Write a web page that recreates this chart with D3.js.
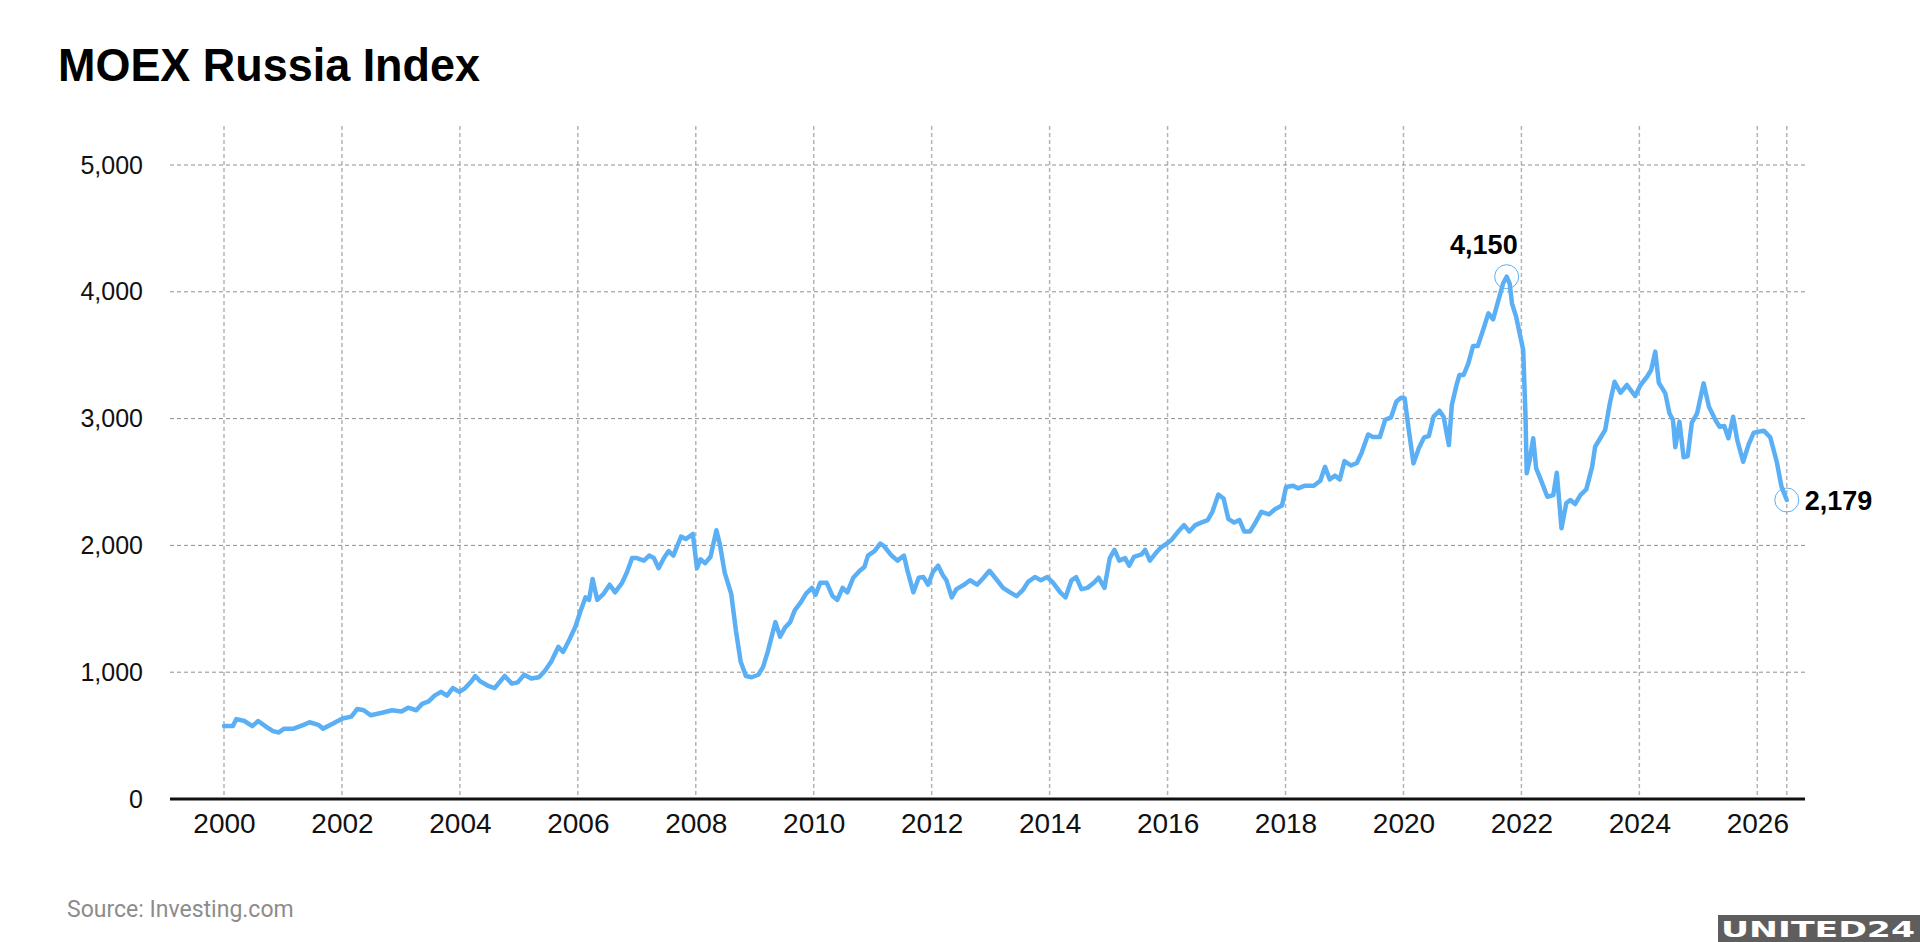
<!DOCTYPE html>
<html>
<head>
<meta charset="utf-8">
<script src="https://cdn.jsdelivr.net/npm/d3@7"></script>
<style>
  body { margin: 0; background: #fff; }
  svg { display: block; font-family: "Liberation Sans", Arial, sans-serif; }
</style>
</head>
<body>
<svg id="chart" width="1920" height="942"></svg>
<script>
// MOEX Russia Index (decimal year, index level)
const years = [
  2000.00, 2000.15, 2000.21, 2000.35, 2000.48, 2000.58, 2000.73, 2000.83, 2000.93, 2001.02,
  2001.18, 2001.35, 2001.45, 2001.60, 2001.68, 2001.85, 2002.01, 2002.16, 2002.26, 2002.37,
  2002.49, 2002.68, 2002.85, 2003.01, 2003.12, 2003.26, 2003.36, 2003.47, 2003.57, 2003.68,
  2003.78, 2003.88, 2003.99, 2004.09, 2004.20, 2004.26, 2004.34, 2004.47, 2004.59, 2004.67,
  2004.76, 2004.88, 2004.98, 2005.09, 2005.21, 2005.34, 2005.44, 2005.55, 2005.67, 2005.75,
  2005.86, 2005.96, 2006.04, 2006.13, 2006.19, 2006.25, 2006.33, 2006.44, 2006.54, 2006.63,
  2006.75, 2006.83, 2006.92, 2007.00, 2007.12, 2007.21, 2007.29, 2007.37, 2007.46, 2007.54,
  2007.62, 2007.75, 2007.83, 2007.95, 2008.02, 2008.08, 2008.16, 2008.25, 2008.35, 2008.41,
  2008.49, 2008.60, 2008.68, 2008.76, 2008.85, 2008.95, 2009.06, 2009.14, 2009.22, 2009.35,
  2009.43, 2009.51, 2009.60, 2009.68, 2009.78, 2009.87, 2009.97, 2010.03, 2010.11, 2010.22,
  2010.32, 2010.40, 2010.49, 2010.57, 2010.67, 2010.78, 2010.86, 2010.92, 2011.03, 2011.13,
  2011.19, 2011.32, 2011.42, 2011.53, 2011.59, 2011.69, 2011.78, 2011.86, 2011.94, 2012.02,
  2012.11, 2012.19, 2012.25, 2012.34, 2012.42, 2012.55, 2012.65, 2012.77, 2012.88, 2012.98,
  2013.11, 2013.21, 2013.33, 2013.44, 2013.54, 2013.64, 2013.75, 2013.85, 2013.96, 2014.06,
  2014.18, 2014.27, 2014.37, 2014.45, 2014.54, 2014.64, 2014.75, 2014.83, 2014.93, 2015.02,
  2015.10, 2015.18, 2015.28, 2015.35, 2015.43, 2015.56, 2015.62, 2015.70, 2015.80, 2015.89,
  2015.99, 2016.07, 2016.20, 2016.28, 2016.37, 2016.47, 2016.57, 2016.68, 2016.76, 2016.86,
  2016.95, 2017.03, 2017.13, 2017.22, 2017.30, 2017.40, 2017.49, 2017.59, 2017.72, 2017.82,
  2017.94, 2018.01, 2018.13, 2018.21, 2018.32, 2018.48, 2018.59, 2018.67, 2018.75, 2018.84,
  2018.92, 2019.00, 2019.11, 2019.21, 2019.29, 2019.40, 2019.48, 2019.60, 2019.69, 2019.79,
  2019.88, 2019.96, 2020.02, 2020.09, 2020.17, 2020.26, 2020.35, 2020.43, 2020.51, 2020.61,
  2020.68, 2020.77, 2020.82, 2020.90, 2020.95, 2021.02, 2021.10, 2021.18, 2021.26, 2021.36,
  2021.44, 2021.52, 2021.61, 2021.69, 2021.75, 2021.80, 2021.84, 2021.91, 2021.97, 2022.03,
  2022.07, 2022.09, 2022.14, 2022.20, 2022.25, 2022.32, 2022.44, 2022.54, 2022.60, 2022.68,
  2022.76, 2022.83, 2022.91, 2023.00, 2023.10, 2023.20, 2023.25, 2023.42, 2023.50, 2023.58,
  2023.68, 2023.79, 2023.93, 2024.02, 2024.13, 2024.20, 2024.27, 2024.33, 2024.44, 2024.51,
  2024.57, 2024.61, 2024.68, 2024.75, 2024.82, 2024.89, 2024.98, 2025.09, 2025.18, 2025.29,
  2025.36, 2025.44, 2025.51, 2025.59, 2025.66, 2025.76, 2025.85, 2025.94, 2026.11, 2026.22,
  2026.33, 2026.41, 2026.50
];
const values = [
  575, 575, 630, 615, 575, 615, 565, 535, 525, 555,
  555, 585, 605, 585, 555, 595, 635, 650, 710, 700,
  660, 680, 700, 690, 720, 700, 750, 770, 815, 845,
  815, 875, 845, 875, 930, 970, 930, 895, 875, 920,
  970, 910, 920, 980, 950, 960, 1010, 1085, 1200, 1160,
  1260, 1360, 1475, 1590, 1570, 1735, 1570, 1620, 1690, 1630,
  1705, 1785, 1900, 1900, 1880, 1920, 1900, 1820, 1900, 1955,
  1920, 2070, 2050, 2090, 1820, 1890, 1860, 1910, 2120, 2005,
  1785, 1620, 1330, 1085, 970, 960, 980, 1040, 1160, 1395,
  1280, 1350, 1395, 1490, 1550, 1620, 1665, 1610, 1705, 1705,
  1600, 1570, 1665, 1630, 1745, 1800, 1830, 1920, 1955, 2015,
  1995, 1920, 1880, 1920, 1800, 1630, 1745, 1750, 1690, 1790,
  1840, 1765, 1725, 1590, 1655, 1690, 1725, 1690, 1745, 1800,
  1725, 1665, 1630, 1600, 1645, 1715, 1750, 1725, 1750, 1705,
  1630, 1590, 1725, 1750, 1655, 1665, 1705, 1745, 1665, 1900,
  1965, 1880, 1900, 1840, 1910, 1930, 1965, 1880, 1940, 1985,
  2015, 2045, 2120, 2160, 2110, 2160, 2180, 2200, 2265, 2400,
  2370, 2210, 2180, 2200, 2110, 2110, 2180, 2265, 2245, 2285,
  2315, 2460, 2470, 2450, 2470, 2470, 2510, 2620, 2520, 2550,
  2520, 2665, 2630, 2650, 2730, 2875, 2855, 2855, 2990, 3010,
  3135, 3165, 3160, 2910, 2647, 2766, 2852, 2863, 3015, 3062,
  3015, 2792, 3107, 3265, 3344, 3344, 3436, 3572, 3572, 3712,
  3830, 3783, 3935, 4067, 4119, 4067, 3909, 3804, 3673, 3541,
  3015, 2569, 2674, 2845, 2608, 2529, 2384, 2397, 2573, 2135,
  2332, 2358, 2326, 2397, 2442, 2621, 2778, 2910, 3121, 3291,
  3204, 3265, 3178, 3265, 3330, 3383, 3528, 3283, 3199, 3042,
  2989, 2774, 2976, 2695, 2705, 2968, 3042, 3278, 3094, 2989,
  2936, 2942, 2845, 3015, 2831, 2660, 2792, 2889, 2905, 2852,
  2660, 2463, 2358
];
const yTicks = [0, 1000, 2000, 3000, 4000, 5000];
const xTicks = [2000, 2002, 2004, 2006, 2008, 2010, 2012, 2014, 2016, 2018, 2020, 2022, 2024, 2026];
const peakLabel = '4,150';
const lastLabel = '2,179';

const data = years.map((yr, i) => ({ year: yr, value: values[i] }));

const svg = d3.select('#chart');
const margin = { left: 170, right: 1805, top: 165, bottom: 799 };

const x = d3.scaleLinear()
    .domain([2000, 2026])
    .range([224, 1757.3]);

const y = d3.scaleLinear()
    .domain([0, 5000])
    .range([margin.bottom, margin.top]);

svg.append('rect').attr('width', 1920).attr('height', 942).attr('fill', '#fff');

// title
svg.append('text')
    .attr('x', 58)
    .attr('y', 81)
    .style('font-size', '47px')
    .style('font-weight', 700)
    .attr('fill', '#000')
    .attr('textLength', 422)
    .attr('lengthAdjust', 'spacingAndGlyphs')
    .text('MOEX Russia Index');

// vertical grid (even years + last data point)
const lastPoint = data[data.length - 1];
svg.append('g')
    .selectAll('line')
    .data(xTicks.concat([lastPoint.year]))
    .enter().append('line')
    .attr('x1', d => x(d))
    .attr('x2', d => x(d))
    .attr('y1', 126)
    .attr('y2', margin.bottom)
    .attr('stroke', '#b4b4b4')
    .attr('stroke-width', 1.5)
    .attr('stroke-dasharray', '4,3');

// horizontal grid
svg.append('g')
    .selectAll('line')
    .data(yTicks.filter(d => d > 0))
    .enter().append('line')
    .attr('x1', margin.left)
    .attr('x2', margin.right)
    .attr('y1', d => y(d))
    .attr('y2', d => y(d))
    .attr('stroke', '#8f8f8f')
    .attr('stroke-width', 1)
    .attr('stroke-dasharray', '4,3');

// y axis labels
const yAxis = svg.append('g')
    .attr('transform', `translate(${margin.left},0)`)
    .call(d3.axisLeft(y).tickValues(yTicks).tickFormat(d3.format(',')).tickSize(0).tickPadding(27));
yAxis.select('.domain').remove();
yAxis.selectAll('text')
    .style('font-family', '"Liberation Sans", Arial, sans-serif')
    .style('font-size', '25px')
    .attr('fill', '#111');

// x axis labels
const xAxis = svg.append('g')
    .attr('transform', `translate(0,${margin.bottom})`)
    .call(d3.axisBottom(x).tickValues(xTicks).tickFormat(d3.format('d')).tickSize(0).tickPadding(14));
xAxis.select('.domain').remove();
xAxis.selectAll('text')
    .style('font-family', '"Liberation Sans", Arial, sans-serif')
    .style('font-size', '28px')
    .attr('fill', '#111');

// baseline
svg.append('line')
    .attr('x1', margin.left)
    .attr('x2', margin.right)
    .attr('y1', y(0))
    .attr('y2', y(0))
    .attr('stroke', '#111')
    .attr('stroke-width', 3);

// index line
const line = d3.line()
    .x(d => x(d.year))
    .y(d => y(d.value));

svg.append('path')
    .datum(data)
    .attr('fill', 'none')
    .attr('stroke', '#5aaff5')
    .attr('stroke-width', 4.5)
    .attr('stroke-linejoin', 'round')
    .attr('stroke-linecap', 'round')
    .attr('d', line);

// annotations: peak and last value
const peakPoint = data.reduce((a, b) => (b.value > a.value ? b : a));

svg.selectAll('.marker')
    .data([peakPoint, lastPoint])
    .enter().append('circle')
    .attr('class', 'marker')
    .attr('cx', d => x(d.year))
    .attr('cy', d => y(d.value))
    .attr('r', 12)
    .attr('fill', 'none')
    .attr('stroke', '#5aaff5')
    .attr('stroke-width', 1);

svg.append('text')
    .attr('x', x(peakPoint.year) + 11)
    .attr('y', y(peakPoint.value) - 23)
    .attr('text-anchor', 'end')
    .style('font-size', '27px')
    .style('font-weight', 700)
    .attr('fill', '#000')
    .text(peakLabel);

svg.append('text')
    .attr('x', x(lastPoint.year) + 18)
    .attr('y', y(lastPoint.value) + 10)
    .style('font-size', '27px')
    .style('font-weight', 700)
    .attr('fill', '#000')
    .text(lastLabel);

// source
svg.append('text')
    .attr('x', 67)
    .attr('y', 917)
    .style('font-family', 'Roboto, "Liberation Sans", sans-serif')
    .style('font-size', '23px')
    .attr('fill', '#8c8c8c')
    .text('Source: Investing.com');

// logo
const logo = svg.append('g');
logo.append('rect')
    .attr('x', 1718)
    .attr('y', 915)
    .attr('width', 202)
    .attr('height', 27)
    .attr('fill', '#5e5e5e');
logo.append('text')
    .attr('x', 1721)
    .attr('y', 937)
    .style('font-family', '"DejaVu Sans", sans-serif')
    .style('font-size', '22px')
    .style('font-weight', 900)
    .attr('fill', '#fff')
    .attr('textLength', 194)
    .attr('lengthAdjust', 'spacingAndGlyphs')
    .text('UNITED24');
</script>
</body>
</html>
